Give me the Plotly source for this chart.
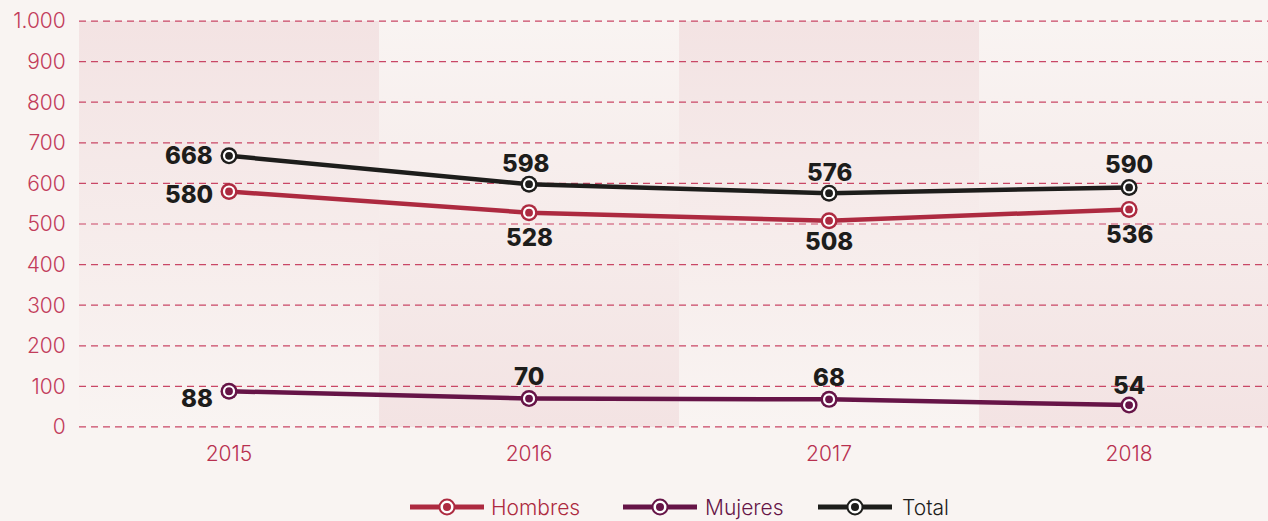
import plotly.graph_objects as go

years = ["2015", "2016", "2017", "2018"]
hombres = [580, 528, 508, 536]
mujeres = [88, 70, 68, 54]
total = [668, 598, 576, 590]
y_ticks = [0, 100, 200, 300, 400, 500, 600, 700, 800, 900, 1000]
y_tick_text = ["0", "100", "200", "300", "400", "500", "600", "700", "800", "900", "1.000"]

BG = "#f9f4f2"
PINK = "#f3e3e3"
GRID = "#c94766"
TICK = "#c23c5a"
C_H = "#ad2a40"
C_M = "#661447"
C_T = "#1d1d1b"
FONT = "Inter"

XR = [-0.5, 3.463]
YR = [-5, 1005]
ML, MR, MT, MB = 79, 0, 19, 92
W, H = 1268, 521
PW, PH = W - ML - MR, H - MT - MB

fig = go.Figure()

# alternating gradient bands behind each year column
xs = list(range(len(years)))
for i in xs:
    x0, x1 = i - 0.5, i + 0.5
    cs = [[0, BG], [1, PINK]] if i % 2 == 0 else [[0, PINK], [1, BG]]
    fig.add_trace(go.Scatter(
        x=[x0, x1, x1, x0, x0], y=[0, 0, 1000, 1000, 0],
        mode="lines", fill="toself", line=dict(width=0),
        fillgradient=dict(type="vertical", colorscale=cs, start=0, stop=1000),
        hoverinfo="skip", showlegend=False,
    ))

# dashed gridlines drawn above the bands
gx, gy = [], []
for t in y_ticks:
    gx += [XR[0], XR[1], None]
    gy += [t, t, None]
fig.add_trace(go.Scatter(x=gx, y=gy, mode="lines",
                         line=dict(color=GRID, width=1.2, dash="7px,5px"),
                         hoverinfo="skip", showlegend=False))

series = [("Hombres", hombres, C_H), ("Mujeres", mujeres, C_M), ("Total", total, C_T)]
for name, vals, c in series:
    fig.add_trace(go.Scatter(x=xs, y=vals, mode="lines", name=name,
                             line=dict(color=c, width=4.5),
                             showlegend=False, hoverinfo="skip"))
for name, vals, c in series:
    fig.add_trace(go.Scatter(x=xs, y=vals, mode="markers",
                             marker=dict(size=17, color=c),
                             showlegend=False, hoverinfo="skip"))
    fig.add_trace(go.Scatter(x=xs, y=vals, mode="markers", name=name,
                             marker=dict(size=10, color=c, line=dict(color="white", width=2.2)),
                             showlegend=False))

# data labels
label_font = dict(family=FONT, size=24, color="#1d1d1b", weight=800)
offsets = {
    "Total": [(-14, 0, "right"), (-4, 21, "center"), (0, 21, "center"), (0, 23, "center")],
    "Hombres": [(-14, -3, "right"), (0, -25, "center"), (0, -21, "center"), (0, -25, "center")],
    "Mujeres": [(-14, -7, "right"), (0, 22, "center"), (0, 22, "center"), (0, 20, "center")],
}
for name, vals, c in series:
    for i, v in enumerate(vals):
        dx, dy, xa = offsets[name][i]
        fig.add_annotation(x=xs[i], y=v, text=str(v), showarrow=False,
                           xanchor=xa, yanchor="middle", xshift=dx, yshift=dy,
                           font=label_font)

# manual legend (pixel positions converted to paper coords)
def px_x(p):
    return (p - ML) / PW

def px_y(p):
    return (H - MB - p) / PH

legend_items = [("Hombres", C_H, 410, 489), ("Mujeres", C_M, 623, 703), ("Total", C_T, 818, 900)]
LY = 507
for name, c, lx, tx in legend_items:
    fig.add_shape(type="line", xref="paper", yref="paper",
                  x0=px_x(lx), x1=px_x(lx + 74), y0=px_y(LY), y1=px_y(LY),
                  line=dict(color=c, width=5), layer="above")
    cx = px_x(lx + 37)
    for d, col in [(17, c), (13, "white"), (8, c)]:
        fig.add_shape(type="circle", xref="paper", yref="paper",
                      xsizemode="pixel", ysizemode="pixel",
                      xanchor=cx, yanchor=px_y(LY),
                      x0=-d / 2, x1=d / 2, y0=-d / 2, y1=d / 2,
                      fillcolor=col, line=dict(width=0), layer="above")
    fig.add_annotation(xref="paper", yref="paper", x=px_x(tx), y=px_y(LY),
                       xanchor="left", yanchor="middle", showarrow=False,
                       text=name, font=dict(family=FONT, size=21, color=c, weight=300))

fig.update_layout(
    width=W, height=H,
    paper_bgcolor=BG, plot_bgcolor=BG,
    margin=dict(l=ML, r=MR, t=MT, b=MB),
    font=dict(family=FONT, size=21, color=TICK),
    showlegend=False,
    xaxis=dict(range=XR, tickvals=xs, ticktext=years,
               showgrid=False, zeroline=False, showline=False,
               ticks="outside", ticklen=6, tickcolor="rgba(0,0,0,0)",
               tickfont=dict(family=FONT, size=21, color="#b8304f", weight=300)),
    yaxis=dict(range=YR, tickvals=y_ticks, ticktext=y_tick_text,
               showgrid=False, zeroline=False, showline=False,
               ticks="outside", ticklen=8, tickcolor="rgba(0,0,0,0)",
               tickfont=dict(family=FONT, size=21, color=TICK, weight=300)),
)

fig.write_html("out.html", config={"displayModeBar": False},
               post_script="document.body.style.margin='0';")
